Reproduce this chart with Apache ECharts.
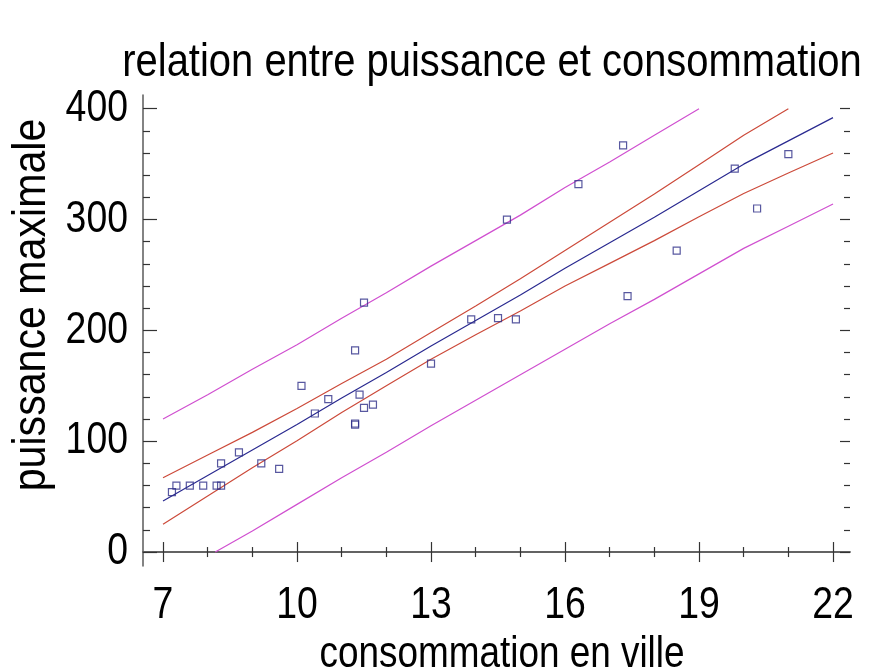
<!DOCTYPE html>
<html>
<head>
<meta charset="utf-8">
<script src="https://cdn.jsdelivr.net/npm/echarts@6/dist/echarts.min.js"></script>
<style>html,body{margin:0;padding:0;background:#fff}#c{width:877px;height:671px}</style>
</head>
<body>
<div id="c"></div>
<script>
// ---- data ----
const pointX = [7.2, 7.3, 7.6, 7.9, 8.2, 8.3, 8.3, 8.7, 9.2, 9.6, 10.1, 10.4, 10.7, 11.3, 11.3, 11.3, 11.4, 11.5, 11.5, 11.7, 13.0, 13.9, 14.5, 14.7, 14.9, 16.3, 17.3, 17.4, 18.5, 19.8, 20.3, 21.0];
const pointY = [54, 60, 60, 60, 60, 60, 80, 90, 80, 75, 150, 125, 138, 182, 115, 116, 142, 130, 225, 133, 170, 210, 211, 300, 210, 332, 367, 231, 272, 346, 310, 359];

const fitX = [7, 8, 9, 10, 11, 12, 13, 14, 15, 16, 17, 18, 19, 20, 21, 22];
const fitY = [46, 69, 92, 115, 139, 162, 186, 209, 232, 256, 279, 302, 326, 350, 371, 392];

const confUpX = [7, 8, 9, 10, 11, 12, 13, 14, 15, 16, 17, 18, 19, 20, 21];
const confUpY = [67, 87.5, 108, 129.5, 152, 174, 198, 222, 246.5, 272, 297.5, 323, 349.5, 376, 400];
const confLoX = [7, 8, 9, 10, 11, 12, 13, 14, 15, 16, 17, 18, 19, 20, 21, 22];
const confLoY = [25, 50.5, 76, 100.5, 126, 150, 174, 196, 217.5, 240, 260.5, 281, 302.5, 323.5, 342, 360];

const predUpX = [7, 8, 9, 10, 11, 12, 13, 14, 15, 16, 17, 18, 19];
const predUpY = [120, 142, 165, 187, 211, 234, 258, 281, 304, 329, 352, 376, 400];
const predLoX = [8.17, 9, 10, 11, 12, 13, 14, 15, 16, 17, 18, 19, 20, 21, 22];
const predLoY = [0, 19, 43, 67, 90, 114, 137, 160, 183, 206, 228, 251, 274, 294, 314];

const xMajorTicks = [7, 10, 13, 16, 19, 22];
const xMinorTicks = [8, 9, 11, 12, 14, 15, 17, 18, 20, 21];
const yMajorTicks = [0, 100, 200, 300, 400];
const yMinorTicks = [20, 40, 60, 80, 120, 140, 160, 180, 220, 240, 260, 280, 320, 340, 360, 380];

const titleText = 'relation entre puissance et consommation';
const xName = 'consommation en ville';
const yName = 'puissance maximale';

// ---- chart ----
const FONT = '"Liberation Sans", Arial, sans-serif';
const XMIN = 6.552, XMAX = 22.38, YMIN = -12.6, YMAX = 412.4;
const AXC = '#5a5a5a', TKC = '#333';
const zip = (a, b) => a.map((v, i) => [v, b[i]]);

function axisDef(kind, pos, ticks, len, line) {
  return {
    type: 'value', position: pos, gridIndex: 0,
    min: kind === 'x' ? XMIN : YMIN, max: kind === 'x' ? XMAX : YMAX,
    axisLine: { show: line, lineStyle: { color: AXC, width: 1.5 } },
    axisTick: { show: true, inside: true, length: len, customValues: ticks, lineStyle: { color: TKC, width: 1.2 } },
    axisLabel: { show: false },
    splitLine: { show: false }
  };
}

const chart = echarts.init(document.getElementById('c'), null, { renderer: 'canvas' });
const baseOption = {
  animation: false,
  backgroundColor: '#fff',
  grid: { left: 143, right: 27, top: 95, bottom: 105, containLabel: false },
  xAxis: [
    axisDef('x', 'bottom', xMajorTicks, 10, true),
    axisDef('x', 'bottom', xMinorTicks, 5, false),
    axisDef('x', 'top', xMajorTicks, 10, true),
    axisDef('x', 'top', xMinorTicks, 5, false)
  ],
  yAxis: [
    axisDef('y', 'left', yMajorTicks, 14, true),
    axisDef('y', 'left', yMinorTicks, 7, false),
    axisDef('y', 'right', yMajorTicks, 10, false),
    axisDef('y', 'right', yMinorTicks, 6, false)
  ],
  series: [
    { type: 'line', data: zip(predUpX, predUpY), showSymbol: false, lineStyle: { color: '#d050d0', width: 1.2 }, z: 2 },
    { type: 'line', data: zip(predLoX, predLoY), showSymbol: false, lineStyle: { color: '#d050d0', width: 1.2 }, z: 2 },
    { type: 'line', data: zip(confUpX, confUpY), showSymbol: false, lineStyle: { color: '#cc4a3a', width: 1.2 }, z: 2 },
    { type: 'line', data: zip(confLoX, confLoY), showSymbol: false, lineStyle: { color: '#cc4a3a', width: 1.2 }, z: 2 },
    { type: 'line', data: zip(fitX, fitY), showSymbol: false, lineStyle: { color: '#2a2a90', width: 1.2 }, z: 3 },
    { type: 'scatter', data: zip(pointX, pointY), symbol: 'rect', symbolSize: 7,
      itemStyle: { color: 'rgba(255,255,255,0)', borderColor: '#2e2e88', borderWidth: 1.2 }, z: 4 }
  ]
};
chart.setOption(baseOption);

// Narrow-looking text (the reference uses a condensed face): scale horizontally.
function narrowText(text, x, y, size, sx, align, rot) {
  return {
    type: 'text', x: x, y: y, rotation: rot || 0, scaleX: sx, scaleY: 1,
    style: { text: String(text), fontSize: size, fontFamily: FONT, fill: '#000',
             textAlign: align || 'center', textVerticalAlign: 'middle' }
  };
}
const g = [];
xMajorTicks.forEach(v => {
  const px = chart.convertToPixel({ xAxisIndex: 0 }, v);
  g.push(narrowText(v, px, 606, 44, 0.85, 'center'));
});
yMajorTicks.forEach(v => {
  const py = chart.convertToPixel({ yAxisIndex: 0 }, v);
  g.push(narrowText(v, 128, py, 44, 0.85, 'right'));
});
g.push(narrowText(titleText, 492, 63, 47, 0.85, 'center'));
g.push(narrowText(xName, 502, 655, 45, 0.82, 'center'));
g.push(narrowText(yName, 32, 305, 47, 0.875, 'center', Math.PI / 2));
chart.setOption({ graphic: g });
</script>
</body>
</html>
